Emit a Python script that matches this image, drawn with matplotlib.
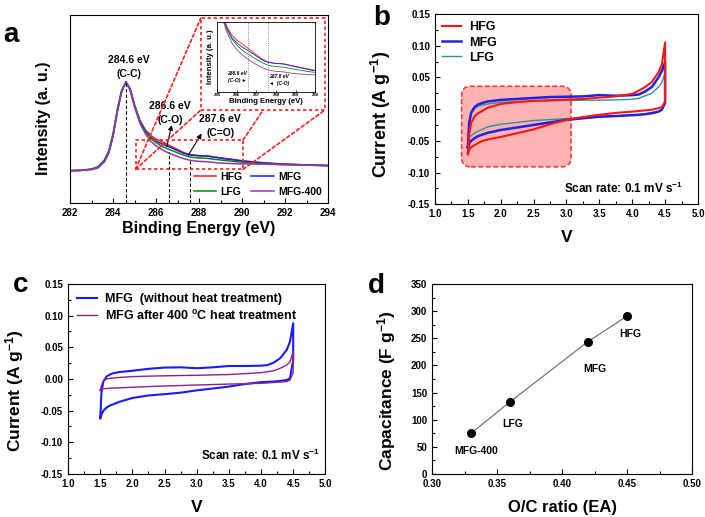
import matplotlib
matplotlib.use("Agg")
import matplotlib.pyplot as plt
from matplotlib.patches import Rectangle, FancyBboxPatch, ConnectionPatch
from matplotlib.ticker import MultipleLocator

plt.rcParams['font.family'] = ['Liberation Sans', 'DejaVu Sans']
plt.rcParams['font.weight'] = 'bold'
plt.rcParams['axes.labelweight'] = 'bold'
plt.rcParams['mathtext.fontset'] = 'custom'
plt.rcParams['mathtext.rm'] = 'Liberation Sans:bold'
plt.rcParams['mathtext.bf'] = 'Liberation Sans:bold'
plt.rcParams['mathtext.it'] = 'Liberation Sans:bold'
plt.rcParams['mathtext.default'] = 'bf'
plt.rcParams['xtick.direction'] = 'in'
plt.rcParams['ytick.direction'] = 'in'

# ---- (a) XPS C1s ----
be = [282, 282.5, 283, 283.3, 283.6, 283.8, 284.0, 284.2, 284.4, 284.6, 284.8, 285.0,
      285.25, 285.5, 285.75, 286.0, 286.3, 286.6, 287.0, 287.3, 287.6, 288.0, 288.4,
      288.8, 289.2, 289.6, 290.0, 290.5, 291.0, 291.5, 292.0, 293.0, 294.0]
xps_hfg = [0.173, 0.174, 0.18, 0.19, 0.225, 0.27, 0.36, 0.49, 0.595, 0.645, 0.605, 0.52,
           0.44, 0.39, 0.36, 0.34, 0.325, 0.308, 0.285, 0.268, 0.258, 0.252, 0.25,
           0.244, 0.238, 0.232, 0.226, 0.22, 0.215, 0.211, 0.208, 0.204, 0.2]
xps_mfg = [0.173, 0.174, 0.179, 0.188, 0.22, 0.265, 0.355, 0.485, 0.592, 0.645, 0.608, 0.522,
           0.438, 0.385, 0.35, 0.33, 0.313, 0.30, 0.28, 0.265, 0.256, 0.252, 0.25,
           0.243, 0.236, 0.23, 0.224, 0.218, 0.214, 0.21, 0.207, 0.203, 0.2]
xps_lfg = [0.173, 0.175, 0.182, 0.194, 0.23, 0.278, 0.37, 0.5, 0.6, 0.642, 0.6, 0.515,
           0.432, 0.38, 0.345, 0.322, 0.30, 0.286, 0.268, 0.255, 0.245, 0.24, 0.238,
           0.232, 0.227, 0.222, 0.218, 0.213, 0.21, 0.207, 0.205, 0.202, 0.199]
xps_400 = [0.173, 0.174, 0.18, 0.19, 0.224, 0.268, 0.358, 0.488, 0.594, 0.643, 0.602, 0.512,
           0.425, 0.37, 0.33, 0.305, 0.283, 0.266, 0.248, 0.236, 0.228, 0.222, 0.22,
           0.215, 0.212, 0.21, 0.209, 0.208, 0.207, 0.206, 0.204, 0.202, 0.2]
xps_names = ['HFG', 'MFG', 'LFG', 'MFG-400']
xps_colors = ['#ff1a1a', '#1a1aff', '#008a00', '#9933bb']

# ---- (b) CV of HFG / MFG / LFG ----
v_grid = [1.5, 1.52, 1.55, 1.6, 1.65, 1.7, 1.8, 2.0, 2.25, 2.5, 2.75, 3.0, 3.25, 3.5,
          3.75, 4.0, 4.1, 4.2, 4.3, 4.4, 4.45, 4.5]
hfg_up = [-0.07, -0.04, -0.022, -0.012, -0.007, -0.004, 0.002, 0.008, 0.011, 0.013, 0.014,
          0.015, 0.016, 0.018, 0.02, 0.024, 0.029, 0.035, 0.043, 0.058, 0.07, 0.105]
hfg_down = [-0.072, -0.064, -0.06, -0.057, -0.054, -0.051, -0.048, -0.044, -0.038, -0.032,
            -0.024, -0.017, -0.0125, -0.009, -0.006, -0.004, -0.003, -0.002, -0.001, 0.0015,
            0.003, 0.012]
mfg_up = [-0.06, -0.022, -0.006, 0.003, 0.007, 0.009, 0.012, 0.0145, 0.016, 0.0175, 0.019,
          0.0195, 0.02, 0.022, 0.021, 0.022, 0.023, 0.028, 0.035, 0.05, 0.06, 0.074]
mfg_down = [-0.061, -0.054, -0.05, -0.046, -0.043, -0.041, -0.0375, -0.033, -0.029, -0.025,
            -0.021, -0.017, -0.0145, -0.012, -0.011, -0.0095, -0.009, -0.008, -0.0065, -0.004,
            -0.001, 0.01]
lfg_up = [-0.048, -0.02, -0.006, 0.0, 0.004, 0.006, 0.008, 0.0105, 0.012, 0.0125, 0.013,
          0.0135, 0.014, 0.014, 0.0145, 0.0155, 0.017, 0.021, 0.025, 0.035, 0.042, 0.056]
lfg_down = [-0.05, -0.045, -0.042, -0.038, -0.035, -0.033, -0.028, -0.024, -0.021, -0.018,
            -0.0165, -0.015, -0.0135, -0.012, -0.011, -0.0095, -0.0085, -0.0075, -0.0055,
            -0.0036, -0.001, 0.008]

# ---- (c) MFG vs MFG-400 ----
mfg_c_up = [-0.062, -0.02, -0.004, 0.004, 0.007, 0.009, 0.011, 0.013, 0.016, 0.018, 0.0184,
            0.017, 0.0184, 0.0205, 0.0205, 0.021, 0.022, 0.026, 0.033, 0.046, 0.059, 0.088]
mfg_c_down = [-0.062, -0.056, -0.05, -0.045, -0.042, -0.04, -0.036, -0.03, -0.026, -0.024,
              -0.0216, -0.018, -0.015, -0.012, -0.008, -0.005, -0.0045, -0.004, -0.003,
              -0.0016, 0.001, 0.03]
m400_up = [-0.018, -0.01, -0.003, 0.0, 0.001, 0.0015, 0.0025, 0.0037, 0.0045, 0.005, 0.0055,
           0.0058, 0.0065, 0.007, 0.0085, 0.01, 0.0115, 0.013, 0.017, 0.022, 0.027, 0.043]
m400_down = [-0.018, -0.016, -0.0155, -0.015, -0.0145, -0.0142, -0.014, -0.013, -0.012, -0.011,
             -0.0103, -0.0095, -0.0088, -0.008, -0.0075, -0.0068, -0.0062, -0.0055, -0.0048,
             -0.004, -0.0016, 0.01]

# ---- (d) capacitance vs O/C ----
oc_ratio = [0.33, 0.36, 0.42, 0.45]
capacitance = [75, 133, 244, 291]
cap_names = ['MFG-400', 'LFG', 'MFG', 'HFG']


def loop(up, down):
    xs = list(v_grid) + list(v_grid[::-1])
    ys = list(up) + list(down[::-1])
    return xs + [v_grid[0]], ys + [up[0]]


fig = plt.figure(figsize=(7.05, 5.17), dpi=100)

# ================= panel a =================
ax = fig.add_axes([0.0993, 0.607, 0.366, 0.364])
for ys, nm, c in zip([xps_hfg, xps_mfg, xps_lfg, xps_400], xps_names, xps_colors):
    ax.plot(be, ys, color=c, lw=1.1, label=nm)
ax.set_xlim(282, 294)
ax.set_ylim(0, 1)
ax.set_yticks([])
ax.xaxis.set_major_locator(MultipleLocator(2))
ax.xaxis.set_minor_locator(MultipleLocator(1))
ax.tick_params(axis='x', labelsize=7, length=3.5, width=0.8)
ax.tick_params(axis='x', which='minor', length=2, width=0.8)
ax.set_xlabel('Binding Energy (eV)', fontsize=11.5, labelpad=2)
ax.set_ylabel('Intensity (a. u.)', fontsize=11.5)
ax.yaxis.set_label_coords(-0.072, 0.45)

dash_k = (0, (3, 2))
ax.vlines([284.6], 0, 0.645, colors='k', linestyles=dash_k, lw=0.8)
ax.vlines([286.6], 0, 0.27, colors='k', linestyles=dash_k, lw=0.8)
ax.vlines([287.6], 0, 0.23, colors='k', linestyles=dash_k, lw=0.8)
ax.text(284.75, 0.725, '284.6 eV\n(C-C)', ha='center', va='center', fontsize=7.5,
        linespacing=1.5)
ax.text(286.65, 0.48, '286.6 eV\n(C-O)', ha='center', va='center', fontsize=7.5,
        linespacing=1.5)
ax.text(288.98, 0.41, '287.6 eV\n(C=O)', ha='center', va='center', fontsize=7.5,
        linespacing=1.5)
arrow_kw = dict(arrowstyle='-|>', color='k', lw=0.8, mutation_scale=7,
                shrinkA=0, shrinkB=0)
ax.annotate('', xy=(286.73, 0.415), xytext=(286.5, 0.30), arrowprops=arrow_kw)
ax.annotate('', xy=(288.12, 0.37), xytext=(287.5, 0.255), arrowprops=arrow_kw)

red_dash = (0, (2, 1.6))
ax.add_patch(Rectangle((285.05, 0.18), 5.0, 0.156, fill=False, ec='#ff2020', lw=1.2,
                       ls=red_dash, zorder=4))
box = (0.507, 0.495, 0.481, 0.489)
corners_small = {'bl': (285.05, 0.18), 'tr': (290.05, 0.336), 'br': (290.05, 0.18)}
corners_box = {'tl': (box[0], box[1] + box[3]), 'bl': (box[0], box[1]),
               'tr': (box[0] + box[2], box[1] + box[3]), 'br': (box[0] + box[2], box[1])}
for a_key, b_key in [('bl', 'tl'), ('bl', 'bl'), ('tr', 'tr'), ('br', 'br')]:
    con = ConnectionPatch(xyA=corners_small[a_key], coordsA=ax.transData,
                          xyB=corners_box[b_key], coordsB=ax.transAxes,
                          color='#ff2020', lw=1.2, ls=red_dash, zorder=3)
    ax.add_artist(con)
ax.add_patch(Rectangle(box[:2], box[2], box[3], transform=ax.transAxes, fc='white',
                       ec='#ff2020', lw=1.2, ls=red_dash, zorder=5, clip_on=False))

h = ax.get_legend_handles_labels()[0]
ax.legend([h[0], h[2], h[1], h[3]], ['HFG', 'LFG', 'MFG', 'MFG-400'], ncol=2,
          loc='lower right', bbox_to_anchor=(1.0, 0.0), frameon=False, fontsize=7.5,
          handlelength=2.2, handletextpad=0.4, columnspacing=0.8, labelspacing=0.5,
          borderaxespad=0.2)

# inset
axi = fig.add_axes([0.308, 0.8226, 0.139, 0.1354])
for ys, c in zip([xps_hfg, xps_mfg, xps_lfg, xps_400], xps_colors):
    axi.plot(be, ys, color=c, lw=0.6)
axi.set_xlim(285, 290)
axi.set_ylim(0.145, 0.41)
axi.set_yticks([])
axi.xaxis.set_major_locator(MultipleLocator(1))
axi.tick_params(axis='x', labelsize=3.2, length=1.5, width=0.5, pad=1)
for s in axi.spines.values():
    s.set_linewidth(0.6)
axi.set_xlabel('Binding Energy (eV)', fontsize=5.6, labelpad=1)
axi.set_ylabel('Intensity (a. u.)', fontsize=5.6, labelpad=2)
axi.axvline(286.6, color='#666666', ls=':', lw=0.6)
axi.axvline(287.6, color='#666666', ls=':', lw=0.6)
axi.text(286.5, 0.2, '286.6 eV\n(C-O) \u25ba', ha='right', va='center', fontsize=3.6,
         style='italic', linespacing=1.6, family=['Liberation Sans', 'DejaVu Sans'])
axi.text(287.65, 0.19, '287.6 eV\n\u25c4  (C-O)', ha='left', va='center', fontsize=3.6,
         style='italic', linespacing=1.6, family=['Liberation Sans', 'DejaVu Sans'])

fig.text(0.004, 0.919, 'a', fontsize=20, fontweight='bold', va='baseline')

# ================= panel b =================
bx = fig.add_axes([0.617, 0.605, 0.373, 0.368])
bx.add_patch(FancyBboxPatch((1.405, -0.091), 1.665, 0.127,
                            boxstyle='round,pad=0,rounding_size=0.14',
                            mutation_aspect=0.104, fc='#ffb3b3', ec='#ff3b3b', lw=1.2,
                            ls=(0, (3, 1.5)), zorder=1))
lines_b = []
for up, dn, c, lw, nm in [(lfg_up, lfg_down, '#2a9494', 1.0, 'LFG'),
                          (mfg_up, mfg_down, '#2222dd', 1.8, 'MFG'),
                          (hfg_up, hfg_down, '#ff1414', 1.5, 'HFG')]:
    xs, ys = loop(up, dn)
    ln, = bx.plot(xs, ys, color=c, lw=lw, label=nm, zorder=2)
    lines_b.append(ln)
bx.legend(lines_b[::-1], ['HFG', 'MFG', 'LFG'], loc='upper left', frameon=False,
          fontsize=9, handlelength=1.5, handletextpad=0.6, labelspacing=0.25,
          borderaxespad=0.2)
bx.text(0.945, 0.06, 'Scan rate: 0.1 mV s$^{-1}$', transform=bx.transAxes, ha='right',
        va='baseline', fontsize=8.5)

# ================= panel c =================
cx = fig.add_axes([0.0965, 0.0832, 0.365, 0.3675])
xs, ys = loop(mfg_c_up, mfg_c_down)
cx.plot(xs, ys, color='#1a1aff', lw=1.5, label='MFG  (without heat treatment)')
xs, ys = loop(m400_up, m400_down)
cx.plot(xs, ys, color='#8b1f8b', lw=1.0, label='MFG after 400 $^{o}$C heat treatment')
cx.legend(loc='upper left', frameon=False, fontsize=9, handlelength=1.6,
          handletextpad=0.6, labelspacing=0.25, borderaxespad=0.35)
cx.text(0.978, 0.074, 'Scan rate: 0.1 mV s$^{-1}$', transform=cx.transAxes, ha='right',
        va='baseline', fontsize=8.5)

for a, fs in [(bx, 13), (cx, 12.5)]:
    a.set_xlim(1.0, 5.0)
    a.set_ylim(-0.15, 0.15)
    a.xaxis.set_major_locator(MultipleLocator(0.5))
    a.xaxis.set_minor_locator(MultipleLocator(0.25))
    a.yaxis.set_major_locator(MultipleLocator(0.05))
    a.yaxis.set_minor_locator(MultipleLocator(0.025))
    a.yaxis.set_major_formatter(plt.FormatStrFormatter('%.2f'))
    a.xaxis.set_major_formatter(plt.FormatStrFormatter('%.1f'))
    a.tick_params(labelsize=7, length=3.5, width=0.8)
    a.tick_params(which='minor', length=2, width=0.8)
    a.set_xlabel('V', fontsize=12.5, labelpad=8)
    a.set_ylabel('Current (A g$^{-1}$)', fontsize=fs)
bx.yaxis.set_label_coords(-0.16, 0.47)
cx.yaxis.set_label_coords(-0.163, 0.44)

fig.text(0.529, 0.952, 'b', fontsize=20, fontweight='bold', va='baseline')
fig.text(0.018, 0.435, 'c', fontsize=20, fontweight='bold', va='baseline')

# ================= panel d =================
dx = fig.add_axes([0.6128, 0.0832, 0.369, 0.3675])
dx.plot(oc_ratio, capacitance, color='#666666', lw=0.8, marker='o', ms=5.5, mfc='k',
        mec='k')
label_offsets = [(4, -13), (2, -16), (5, -20), (2, -13)]
for x, y, nm, off in zip(oc_ratio, capacitance, cap_names, label_offsets):
    dx.annotate(nm, (x, y), xytext=off, textcoords='offset points', ha='center',
                va='center', fontsize=7.5)
dx.set_xlim(0.30, 0.50)
dx.set_ylim(0, 350)
dx.xaxis.set_major_locator(MultipleLocator(0.05))
dx.xaxis.set_minor_locator(MultipleLocator(0.025))
dx.yaxis.set_major_locator(MultipleLocator(50))
dx.yaxis.set_minor_locator(MultipleLocator(25))
dx.xaxis.set_major_formatter(plt.FormatStrFormatter('%.2f'))
dx.tick_params(labelsize=7, length=3.5, width=0.8)
dx.tick_params(which='minor', length=2, width=0.8)
dx.set_xlabel('O/C ratio (EA)', fontsize=12, labelpad=8)
dx.set_ylabel('Capacitance (F g$^{-1}$)', fontsize=12.5)
dx.yaxis.set_label_coords(-0.13, 0.44)
fig.text(0.522, 0.433, 'd', fontsize=20, fontweight='bold', va='baseline')

for a in [ax, bx, cx, dx]:
    for s in a.spines.values():
        s.set_linewidth(0.8)

fig.savefig('out.png', dpi=100)
